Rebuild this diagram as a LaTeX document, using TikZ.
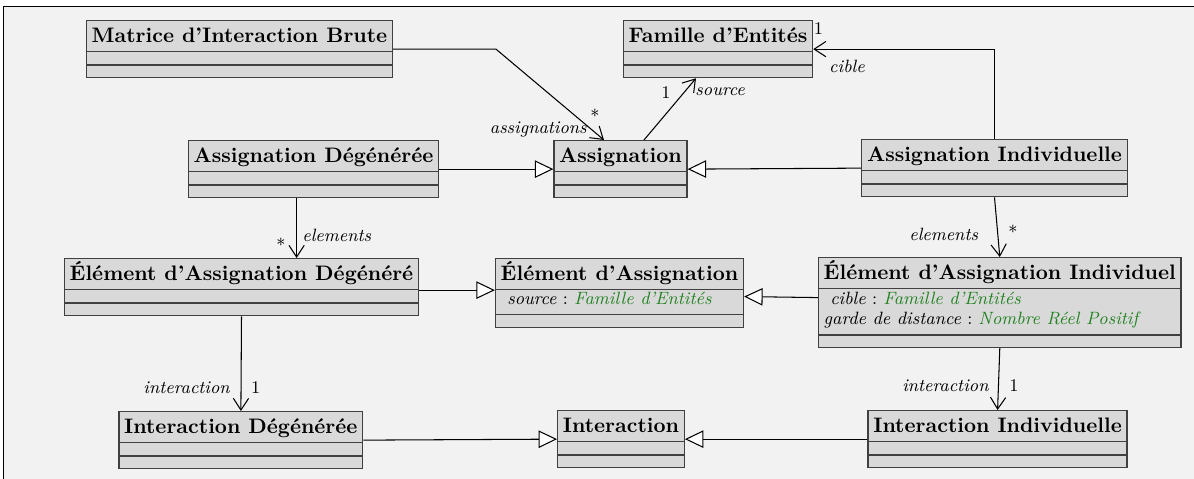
\documentclass[tikz,border=0pt]{standalone}
\usepackage{colortbl}
\usetikzlibrary{arrows.meta,calc}

\definecolor{typegreen}{RGB}{34,130,34}

\renewcommand\arraystretch{0}
\setlength\arrayrulewidth{0.6pt}
\arrayrulecolor{black!75}
\newcommand\attrfont{\fontsize{8.5}{9.54}\selectfont}
\newcommand\clsrow[1]{\multicolumn{1}{@{\hspace{2.5pt}}c@{\hspace{2.5pt}}}{\rule[-4pt]{0pt}{14.5pt}\smash{\textbf{#1}}}}
\newcommand\clsgap{\rule{0pt}{5.75pt}}
\newcommand\clsplain[1]{\begin{tabular}{@{\hspace{2.5pt}}l@{\hspace{2.5pt}}}\clsrow{#1}\\\hline\clsgap\\\hline\clsgap\end{tabular}}
\newcommand\clsfull[4]{\begin{tabular}{@{\hspace{2.5pt}}l@{\hspace{2.5pt}}}\clsrow{#1}\\\hline\rule[-#2]{0pt}{#3}\smash{\attrfont\vtop{\baselineskip=9.54pt #4}}\\\hline\clsgap\end{tabular}}
\newcommand\attr[2]{\hbox{\itshape #1\/\upshape\ :\ \color{typegreen}\itshape #2}}

\tikzset{
  cls/.style={draw=black!75, fill=black!15, line width=0.6pt,
    inner sep=0pt, anchor=north, font=\fontsize{10}{12}\selectfont},
  assoc/.style={draw, line width=0.5pt, -{Straight Barb[length=5.6pt, width=7.3pt]}},
  inherit/.style={draw, line width=0.5pt, -{Triangle[length=8.8pt, width=8.3pt, fill=white]}},
  role/.style={font=\fontsize{8.5}{10}\selectfont\itshape, inner sep=0pt, anchor=base},
  mult/.style={font=\fontsize{8.5}{10}\selectfont, inner sep=0pt, anchor=base},
  frame/.style={fill=black!5, draw=black, line width=0.5pt}
}

\begin{document}
\begin{tikzpicture}[x=0.477pt, y=-0.477pt]
\path[use as bounding box] (0,0) rectangle (1194,479);
\path[frame] (3.8,6.5) rectangle (1215,500);

% classes
\node[cls] (MIB) at (239.5,20) {\clsplain{Matrice d’Interaction Brute}};
\node[cls] (FdE) at (718,20) {\clsplain{Famille d’Entités}};
\node[cls] (AD) at (313.6,140) {\clsplain{Assignation Dégénérée}};
\node[cls] (A) at (620.5,140) {\clsplain{Assignation}};
\node[cls] (AI) at (994.5,139) {\clsplain{Assignation Individuelle}};
\node[cls] (EAD) at (241.5,258) {\clsplain{Élément d’Assignation Dégénéré}};
\node[cls] (EA) at (619.5,258) {\clsfull{Élément d’Assignation}{4.6pt}{11.4pt}%
  {\attr{\ source}{Famille d’Entités}}};
\node[cls] (EAI) at (999.8,257) {\clsfull{Élément d’Assignation Individuel}{14.3pt}{21.45pt}%
  {\attr{\ cible}{Famille d’Entités}\attr{garde de distance}{Nombre Réel Positif}}};
\node[cls] (ID) at (240.9,411) {\clsplain{Interaction Dégénérée}};
\node[cls] (I) at (621,410) {\clsplain{Interaction}};
\node[cls] (II) at (997.6,410) {\clsplain{Interaction Individuelle}};

% associations
\coordinate (bendM) at (496,48.5);
\draw[assoc] (MIB.east) -- (MIB.east -| bendM) -- ($(A.north)+(-16.5,0)$);
\draw[assoc] ($(A.north)+(23.5,0)$) -- ($(FdE.south)+(-22,0)$);
\draw[assoc] (AI.north) |- (FdE.east);
\draw[assoc] ($(AD.south)+(-17,0)$) coordinate (adEl) -- (adEl |- EAD.north);
\draw[assoc] (AI.south) -- (EAI.north);
\draw[assoc] (EAD.south) -- (ID.north);
\draw[assoc] (EAI.south) -- (II.north);

% inheritance
\draw[inherit] (AD.east) -- (A.west);
\draw[inherit] (AI.west) -- (A.east);
\draw[inherit] ($(EAD.east)+(0,3)$) coordinate (eadIn) -- (eadIn -| EA.west);
\draw[inherit] ($(EAI.west)+(0,-5)$) -- ($(EA.east)+(0,3.5)$);
\draw[inherit] (ID.east) -- (I.west);
\draw[inherit] (II.west) -- (I.east);

% roles and multiplicities
\node[role] (rAssign) at (538.3,134) {assignations};
\node[mult] (mAssign) at (595,123) {*};
\node[mult] (mSource) at (666,99) {1};
\node[role, anchor=base west] (rSource) at (695,96) {source};
\node[mult] (mCible) at (818.5,35) {1};
\node[role] (rCible) at (847,72.7) {cible};
\node[mult] (mElemD) at (281,251.5) {*};
\node[role, anchor=base west] (rElemD) at (302,241.5) {elements};
\node[role] (rElemI) at (943.7,241) {elements};
\node[mult] (mElemI) at (1012.9,239) {*};
\node[role] (rInterD) at (186.6,393.3) {interaction};
\node[mult] (mInterD) at (255.6,393.3) {1};
\node[role] (rInterI) at (945.4,391.7) {interaction};
\node[mult] (mInterI) at (1014,392) {1};
\end{tikzpicture}
\end{document}
